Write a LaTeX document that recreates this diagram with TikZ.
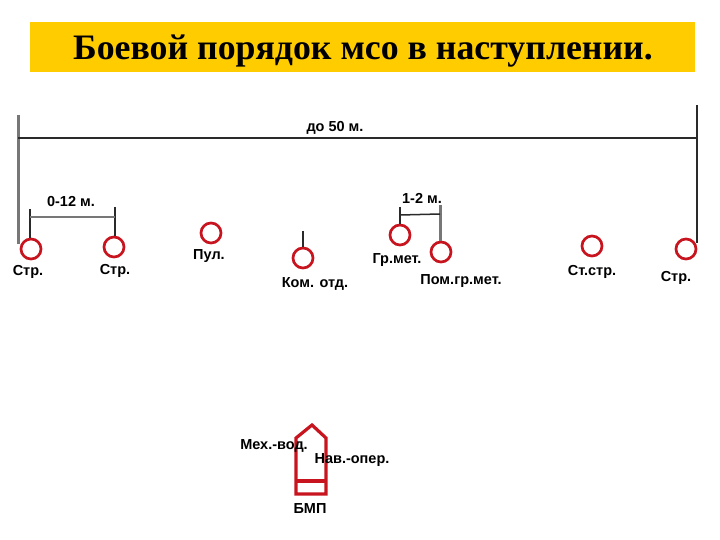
\documentclass[tikz,border=0pt]{standalone}
\usepackage{fontspec}
\setmainfont{Liberation Sans}
\newfontfamily\titlefont{Liberation Serif}
\definecolor{barcol}{HTML}{FFCC00}
\definecolor{ringcol}{HTML}{C8141E}
\definecolor{linecol}{HTML}{2A2A2A}
\definecolor{rulegray}{HTML}{777777}
\tikzset{
 soldier/.style={circle,draw=ringcol,line width=2.7pt,fill=white,minimum size=20pt,inner sep=0pt},
 lbl/.style={font=\bfseries\fontsize{14.5}{16}\selectfont,text=black,inner sep=0pt},
 dimline/.style={draw=linecol,line width=1.5pt},
 grayrule/.style={draw=rulegray,line width=3pt},
 hull/.style={draw=ringcol,line width=3.2pt,line join=miter}
}
\begin{document}
\begin{tikzpicture}[x=1pt,y=-1pt]
\useasboundingbox (0,0) rectangle (720,540);
\fill[white] (0,0) rectangle (720,540);
\node[fill=barcol,minimum width=665pt,minimum height=50pt,inner sep=0pt] (title) at (362.5,47) {};
\node[font=\titlefont\bfseries\fontsize{35.8}{40}\selectfont,inner sep=0pt] (titletext) at (363,51) {Боевой порядок мсо в наступлении.};

% overall dimension
\coordinate (ltop) at (18,115);
\coordinate (lbot) at (18,244);
\coordinate (rtop) at (697,105);
\coordinate (rbot) at (697,243);
\coordinate (hl) at (18,138);
\coordinate (hr) at (697,138);
\draw[grayrule] (ltop) -- (lbot);
\draw[dimline] (rtop) -- (rbot);
\draw[dimline] (hl) -- (hr);

% circles
\node[soldier] (s1) at (31,249) {};
\node[soldier] (s2) at (114,247) {};
\node[soldier] (s3) at (211,233) {};
\node[soldier] (s4) at (303,258) {};
\node[soldier] (s5) at (400,235) {};
\node[soldier] (s6) at (441,252) {};
\node[soldier] (s7) at (592,246) {};
\node[soldier] (s8) at (686,249) {};

% labels
\node[lbl] (l1) at (28,272) {Стр.};
\node[lbl] (l2) at (115,271) {Стр.};
\node[lbl] (l3) at (209,256) {Пул.};
\node[lbl] (l4) at (315,284) {Ком. отд.};
\node[lbl] (l5) at (397,260) {Гр.мет.};
\node[lbl] (l6) at (461,281) {Пом.гр.мет.};
\node[lbl] (l7) at (592,272) {Ст.стр.};
\node[lbl] (l8) at (676,278) {Стр.};
\node[lbl] (d1) at (335,128) {до 50 м.};
\node[lbl] (d2) at (71,202) {0-12 м.};
\node[lbl] (d3) at (422,198) {1-2 м.};

% 0-12 dimension
\coordinate (t1) at (30,209);
\coordinate (t2) at (115,207);
\draw[dimline] (t1) -- (s1.north -| t1);
\draw[dimline] (t2) -- (s2.north -| t2);
\coordinate (h1) at (30,217);
\coordinate (h2) at (115,217);
\draw[draw=rulegray,line width=2pt] (h1) -- (h2);

% 1-2 dimension
\coordinate (t5) at (400,207);
\coordinate (t6) at (440,205);
\draw[dimline] (t5) -- (s5.north -| t5);
\draw[grayrule] (t6) -- (s6.north -| t6);
\coordinate (h5) at (400,215);
\coordinate (h6) at (440,214);
\draw[dimline] (h5) -- (h6);

% squad leader flag
\coordinate (t4) at (303,231);
\draw[line width=1.8pt,draw=linecol] (t4) -- (s4.north);

% vehicle
\coordinate (a) at (296,494);
\coordinate (b) at (296,438);
\coordinate (c) at (312,425);
\coordinate (e) at (326,438);
\coordinate (f) at (326,494);
\coordinate (g) at (296,481);
\coordinate (k) at (326,481);
\draw[hull] (a) -- (b) -- (c) -- (e) -- (f) -- cycle;
\draw[hull] (g) -- (k);
\node[lbl] (v1) at (274,446) {Мех.-вод.};
\node[lbl] (v2) at (352,460) {Нав.-опер.};
\node[lbl] (v3) at (310,509) {БМП};
\end{tikzpicture}
\end{document}
